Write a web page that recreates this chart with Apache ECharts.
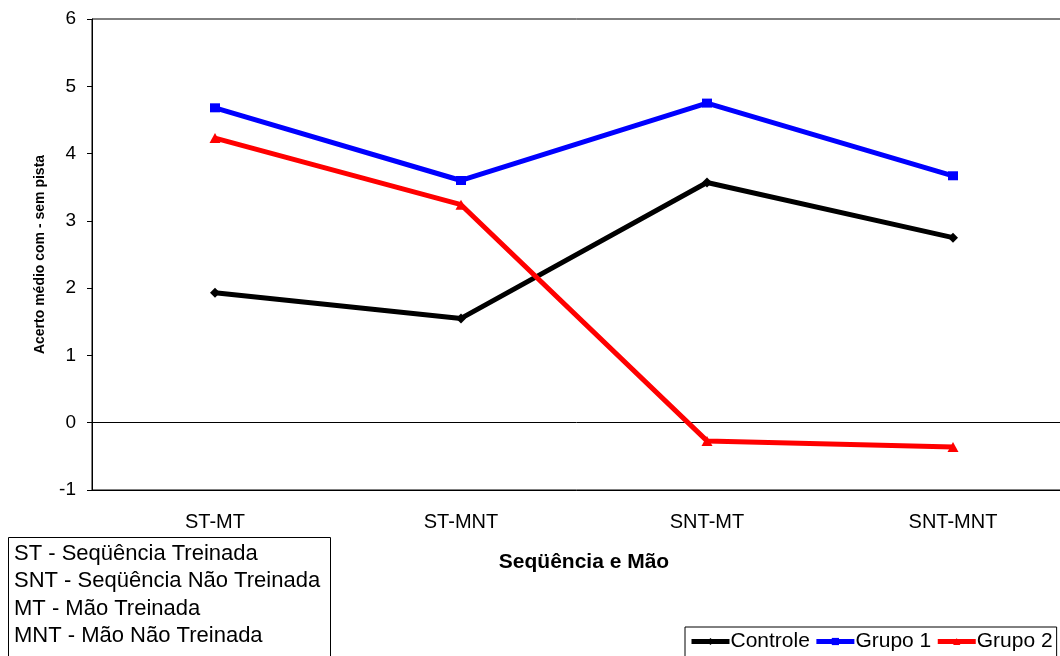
<!DOCTYPE html>
<html>
<head>
<meta charset="utf-8">
<script src="https://cdn.jsdelivr.net/npm/echarts@6/dist/echarts.min.js"></script>
<style>
  html, body { margin: 0; padding: 0; background: #fff; }
  #chart { width: 1060px; height: 656px; }
</style>
</head>
<body>
<div id="chart"></div>
<script>
// Categories: sequence (trained / untrained) x hand (trained / untrained)
var categories = ['ST-MT', 'ST-MNT', 'SNT-MT', 'SNT-MNT'];

// Mean accuracy difference (with cue - without cue) per group
var controle = [1.93, 1.55, 3.57, 2.75];
var grupo1   = [4.68, 3.60, 4.75, 3.67];
var grupo2   = [4.23, 3.24, -0.27, -0.36];

// Abbreviation key shown in the lower-left box
var keyLines = [
  'ST - Seqüência Treinada',
  'SNT - Seqüência Não Treinada',
  'MT - Mão Treinada',
  'MNT - Mão Não Treinada'
];

var FONT = '"Liberation Sans", Arial, sans-serif';

var chart = echarts.init(document.getElementById('chart'), null, { renderer: 'canvas' });

function lineSeries(name, data, color, symbol, size) {
  return {
    name: name,
    type: 'line',
    data: data,
    symbol: symbol,
    symbolSize: size,
    showSymbol: true,
    color: color,
    lineStyle: { color: color, width: 5 },
    itemStyle: { color: color },
    emphasis: { disabled: true },
    z: 3
  };
}

var series = [
  lineSeries('Controle', controle, '#000000', 'diamond', [10, 10]),
  lineSeries('Grupo 1', grupo1, '#0000ff', 'rect', [10, 9]),
  lineSeries('Grupo 2', grupo2, '#ff0000', 'triangle', [11, 10])
];

// Zero reference line across the plot
series[0].markLine = {
  silent: true,
  symbol: 'none',
  label: { show: false },
  lineStyle: { color: '#000', width: 1, type: 'solid' },
  data: [{ yAxis: 0 }],
  z: 1
};

var option = {
  backgroundColor: '#fff',
  animation: false,
  textStyle: { fontFamily: FONT, color: '#000' },
  grid: {
    left: 92, top: 19, width: 984, bottom: 166,
    outerBoundsMode: 'none',
    containLabel: false,
    show: true, borderColor: '#000', borderWidth: 1, backgroundColor: 'transparent'
  },
  xAxis: {
    type: 'category',
    data: categories,
    boundaryGap: true,
    axisLine: { show: true, onZero: false, lineStyle: { color: '#000', width: 1 } },
    axisTick: { show: false },
    axisLabel: { color: '#000', fontSize: 20, fontFamily: FONT, margin: 22 },
    name: 'Seqüência e Mão',
    nameLocation: 'middle',
    nameGap: 62,
    nameTextStyle: { color: '#000', fontSize: 21, fontWeight: 'bold', fontFamily: FONT },
    splitLine: { show: false }
  },
  yAxis: {
    type: 'value',
    min: -1, max: 6, interval: 1,
    axisLine: { show: true, lineStyle: { color: '#000', width: 1 } },
    axisTick: { show: true, length: 5, inside: false, lineStyle: { color: '#000' } },
    axisLabel: { color: '#000', fontSize: 19, fontFamily: FONT, margin: 16 },
    splitLine: { show: false },
    name: 'Acerto médio com - sem pista',
    nameLocation: 'middle',
    nameGap: 45,
    nameRotate: 90,
    nameTextStyle: { color: '#000', fontSize: 14, fontWeight: 'bold', fontFamily: FONT }
  },
  legend: {
    data: ['Controle', 'Grupo 1', 'Grupo 2'],
    left: 685, top: 627,
    orient: 'horizontal',
    borderColor: '#000', borderWidth: 1,
    padding: [4, 4, 6, 4],
    itemGap: 4,
    itemWidth: 38, itemHeight: 9,
    lineStyle: { width: 5 },
    textStyle: { color: '#000', fontSize: 21, fontFamily: FONT, padding: [0, 0, 0, -4] },
    selectedMode: false
  },
  graphic: [
    {
      type: 'rect',
      shape: { x: 8.5, y: 537.5, width: 322, height: 140 },
      style: { fill: '#fff', stroke: '#000', lineWidth: 1 },
      silent: true
    }
  ].concat(keyLines.map(function (t, i) {
    return {
      type: 'text',
      left: 14,
      top: 543 + i * 27.4,
      style: { text: t, fill: '#000', font: '22px ' + FONT },
      silent: true
    };
  })),
  series: series
};

chart.setOption(option);
</script>
</body>
</html>
